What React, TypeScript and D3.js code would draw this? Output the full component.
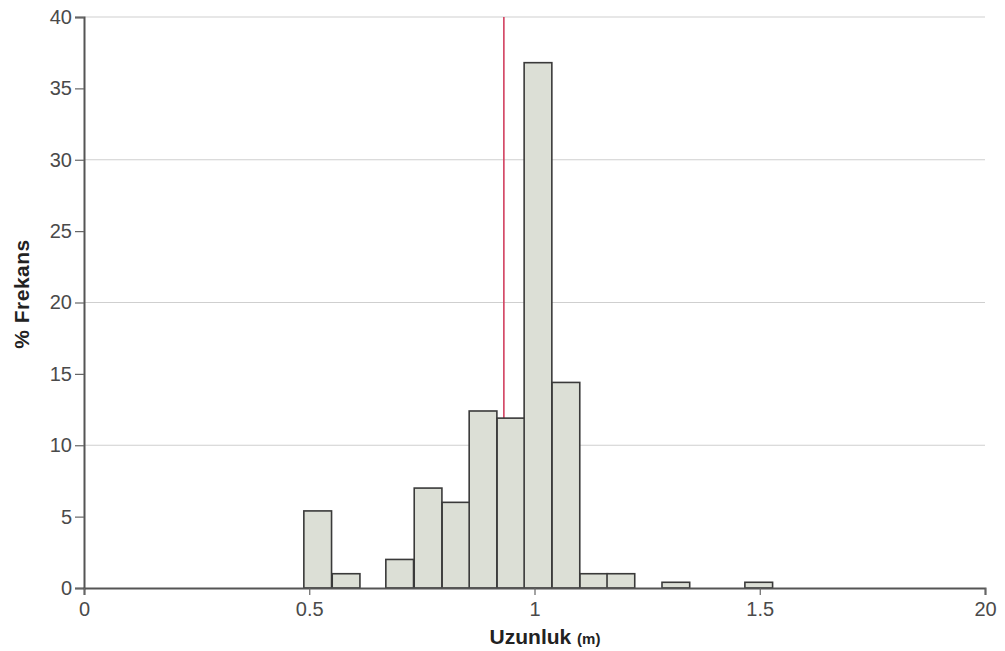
import { useEffect, useRef } from "react";
import * as d3 from "d3";

const binStarts = [0.488, 0.551, 0.670, 0.733, 0.795, 0.855, 0.917, 0.977, 1.039, 1.101, 1.161, 1.283, 1.467];
const binFreq = [5.4, 1.0, 2.0, 7.0, 6.0, 12.4, 11.9, 36.8, 14.4, 1.0, 1.0, 0.4, 0.4];
const binWidth = 0.0615;
const meanValue = 0.932;
const xTicks = [0, 0.5, 1, 1.5, 2];
const xTickLabels = ["0", "0.5", "1", "1.5", "20"];
const yTicks = [0, 5, 10, 15, 20, 25, 30, 35, 40];
const yGrid = [10, 20, 30, 40];

const App = () => {
    const chartRef = useRef<SVGSVGElement | null>(null);

    useEffect(() => {
        const W = 1005;
        const H = 651;
        const svg = d3.select(chartRef.current)
            .attr("width", W)
            .attr("height", H);

        const x = d3.scaleLinear().domain([0, 2]).range([84, 985]);
        const y = d3.scaleLinear().domain([0, 40]).range([588, 17]);
        const font = "Liberation Sans, Arial, sans-serif";

        // grid
        svg.append("g")
            .selectAll("line")
            .data(yGrid)
            .enter()
            .append("line")
            .attr("x1", x(0))
            .attr("x2", x(2))
            .attr("y1", d => y(d))
            .attr("y2", d => y(d))
            .attr("stroke", "#cfcfcf")
            .attr("stroke-width", 1);

        // mean line (behind bars)
        svg.append("line")
            .attr("x1", x(meanValue))
            .attr("x2", x(meanValue))
            .attr("y1", y(40))
            .attr("y2", y(0))
            .attr("stroke", "#d2405f")
            .attr("stroke-width", 1.6);

        const bins = binStarts.map((s, i) => ({ x0: s, freq: binFreq[i] }));

        svg.append("g")
            .selectAll("rect")
            .data(bins)
            .enter()
            .append("rect")
            .attr("x", d => x(d.x0))
            .attr("y", d => y(d.freq))
            .attr("width", d => x(d.x0 + binWidth) - x(d.x0))
            .attr("height", d => y(0) - y(d.freq))
            .attr("fill", "#dcdfd6")
            .attr("stroke", "#3a3a3a")
            .attr("stroke-width", 1.6);

        // y axis
        const yAxis = d3.axisLeft(y)
            .tickValues(yTicks)
            .tickSize(9)
            .tickPadding(3)
            .tickFormat(d3.format("d"));
        const gy = svg.append("g")
            .attr("transform", `translate(${x(0)},0)`)
            .call(yAxis);
        gy.select(".domain").attr("stroke", "#555").attr("stroke-width", 2);
        gy.selectAll(".tick line").attr("stroke", "#666").attr("stroke-width", 1.2);
        gy.selectAll(".tick text")
            .style("font-family", font)
            .style("font-size", "20px")
            .attr("fill", "#4a4a4a");

        // x axis
        const xAxis = d3.axisBottom(x)
            .tickValues(xTicks)
            .tickSize(7)
            .tickPadding(7)
            .tickFormat((d, i) => xTickLabels[i]);
        const gx = svg.append("g")
            .attr("transform", `translate(0,${y(0)})`)
            .call(xAxis);
        gx.select(".domain").attr("stroke", "#555").attr("stroke-width", 2);
        gx.selectAll(".tick line").attr("stroke", "#666").attr("stroke-width", 1.2);
        gx.selectAll(".tick text")
            .style("font-family", font)
            .style("font-size", "20px")
            .attr("fill", "#4a4a4a");

        // axis titles
        const xt = svg.append("text")
            .attr("x", 545)
            .attr("y", 644)
            .attr("text-anchor", "middle")
            .style("font-family", font)
            .style("font-weight", "bold")
            .style("font-size", "21px")
            .attr("fill", "#222");
        xt.append("tspan").text("Uzunluk ");
        xt.append("tspan").style("font-size", "15px").text("(m)");

        svg.append("text")
            .attr("transform", `translate(29,294) rotate(-90)`)
            .attr("text-anchor", "middle")
            .style("font-family", font)
            .style("font-weight", "bold")
            .style("font-size", "21px")
            .style("letter-spacing", "0.5px")
            .attr("fill", "#222")
            .text("% Frekans");

        return () => {
            d3.select(chartRef.current).selectAll("*").remove();
        };
    }, []);

    return (
        <svg
            ref={chartRef}
            style={{ position: "absolute", left: 0, top: 0, background: "#fff" }}
        ></svg>
    );
};

export default App;
